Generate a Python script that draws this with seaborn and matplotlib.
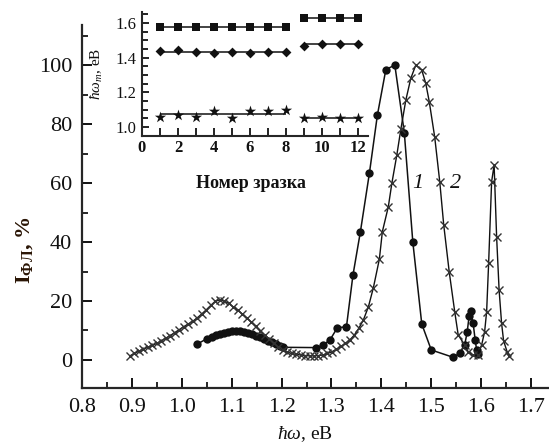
import matplotlib
matplotlib.use("Agg")
import matplotlib.pyplot as plt
import seaborn as sns
import numpy as np
import pandas as pd

# ---------------- data ----------------
s1_x = [1.030, 1.050, 1.060, 1.068, 1.076, 1.084, 1.092, 1.100, 1.108, 1.116,
        1.124, 1.132, 1.140, 1.148, 1.156, 1.164, 1.172, 1.180, 1.188, 1.196,
        1.203, 1.270, 1.283, 1.297, 1.312, 1.330, 1.343, 1.358, 1.376, 1.392,
        1.409, 1.427, 1.446, 1.463, 1.481, 1.500, 1.544, 1.557, 1.567, 1.572,
        1.576, 1.579, 1.584, 1.588, 1.591, 1.594]
s1_y = [5.3, 7.2, 7.9, 8.4, 8.8, 9.2, 9.5, 9.7, 9.8, 9.7,
        9.5, 9.2, 8.8, 8.3, 7.8, 7.2, 6.6, 6.0, 5.4, 4.8,
        4.3, 4.2, 5.0, 6.8, 11.0, 11.2, 28.7, 43.5, 63.3, 83.0,
        98.5, 100.0, 77.1, 40.1, 12.2, 3.4, 0.9, 2.3, 5.1, 9.5,
        15.0, 16.5, 12.4, 6.8, 3.4, 2.0]

s2_x = [0.896, 0.905, 0.914, 0.923, 0.932, 0.941, 0.950, 0.959, 0.968, 0.977,
        0.986, 0.995, 1.004, 1.013, 1.022, 1.031, 1.040, 1.049, 1.058, 1.067,
        1.076, 1.085, 1.094, 1.103, 1.112, 1.121, 1.130, 1.139, 1.148, 1.157,
        1.166, 1.175, 1.184, 1.193, 1.202, 1.211, 1.220, 1.229, 1.238, 1.247,
        1.256, 1.265, 1.274, 1.283, 1.292, 1.301, 1.310, 1.319, 1.328, 1.337,
        1.346, 1.355, 1.364, 1.374, 1.384, 1.396, 1.402, 1.414, 1.421, 1.431,
        1.439, 1.449, 1.459, 1.469, 1.481, 1.489, 1.496, 1.507, 1.517, 1.525,
        1.536, 1.547, 1.554, 1.567, 1.574, 1.583, 1.593, 1.601, 1.607, 1.611,
        1.615, 1.621, 1.626, 1.631, 1.636, 1.641, 1.645, 1.652, 1.655]
s2_y = [1.4, 2.2, 3.0, 3.7, 4.3, 5.0, 5.6, 6.5, 7.4, 8.3,
        9.3, 10.3, 11.3, 12.2, 13.1, 14.3, 15.6, 17.0, 18.5, 19.9,
        20.4, 20.0, 19.2, 18.0, 16.9, 15.6, 14.3, 12.9, 11.4, 9.9,
        8.4, 7.0, 5.7, 4.5, 3.4, 2.7, 2.2, 1.9, 1.7, 1.5,
        1.4, 1.4, 1.5, 1.7, 2.2, 2.8, 3.6, 4.6, 5.6, 6.8,
        8.5, 10.8, 13.6, 18.0, 24.5, 34.2, 43.5, 52.0, 59.9, 69.5,
        78.2, 88.1, 95.5, 100.0, 98.3, 93.8, 87.6, 75.5, 60.5, 45.8,
        29.9, 16.4, 8.5, 5.1, 2.8, 1.7, 1.8, 5.1, 9.6, 16.4,
        32.8, 60.5, 66.1, 41.8, 23.7, 12.4, 6.5, 2.8, 1.5]

# inset data (sample number vs energy)
samples_a = [1, 2, 3, 4, 5, 6, 7, 8]
samples_b = [9, 10, 11, 12]
sq_a = [1.58, 1.58, 1.575, 1.58, 1.575, 1.58, 1.578, 1.578]
sq_b = [1.627, 1.63, 1.63, 1.63]
di_a = [1.44, 1.445, 1.435, 1.425, 1.435, 1.425, 1.435, 1.435]
di_b = [1.47, 1.48, 1.48, 1.48]
st_a = [1.06, 1.07, 1.06, 1.09, 1.05, 1.09, 1.09, 1.10]
st_b = [1.05, 1.055, 1.05, 1.05]

main_xticks = [0.8, 0.9, 1.0, 1.1, 1.2, 1.3, 1.4, 1.5, 1.6, 1.7]
main_yticks = [0, 20, 40, 60, 80, 100]
inset_xticks = [0, 2, 4, 6, 8, 10, 12]
inset_yticks = [1.0, 1.2, 1.4, 1.6]

# ---------------- style ----------------
sns.set_style("ticks")
serif = "Liberation Serif"
plt.rcParams["font.family"] = [serif, "DejaVu Serif"]
plt.rcParams["mathtext.fontset"] = "custom"
plt.rcParams["mathtext.rm"] = serif
plt.rcParams["mathtext.it"] = serif + ":italic"
plt.rcParams["mathtext.bf"] = serif + ":bold"
plt.rcParams["axes.linewidth"] = 1.6

W, H = 549, 445
fig = plt.figure(figsize=(W / 100, H / 100), dpi=100)

def fx(px):
    return px / W

def fy(py):
    return 1 - py / H

ink = "#111111"

# ---------------- main axes ----------------
ax = fig.add_axes([fx(82), fy(388), fx(549) - fx(82), fy(25) - fy(388)])
d1 = pd.DataFrame({"x": s1_x, "y": s1_y})
d2 = pd.DataFrame({"x": s2_x, "y": s2_y})
sns.lineplot(data=d1, x="x", y="y", ax=ax, sort=False, estimator=None,
             color=ink, lw=1.1, marker="o", markersize=6, markeredgewidth=0,
             markerfacecolor=ink)
sns.lineplot(data=d2, x="x", y="y", ax=ax, sort=False, estimator=None,
             color=ink, lw=1.0, marker="x", markersize=5.5, markeredgewidth=1.0,
             markeredgecolor="#333333")

ax.set_xlim(0.8, 1.736)
ax.set_ylim(-9.5, 113.6)
ax.set_xticks(main_xticks)
ax.set_xticklabels([f"{v:.1f}" for v in main_xticks])
ax.set_yticks(main_yticks)
ax.set_xticks(np.arange(0.85, 1.74, 0.1), minor=True)
ax.set_yticks([10, 30, 50, 70, 90, 110], minor=True)
ax.tick_params(axis="both", which="major", direction="in", length=7, width=1.4,
               labelsize=16, colors=ink, pad=7)
ax.tick_params(axis="both", which="minor", direction="in", length=4, width=1.4)
ax.set_xlabel("")
ax.set_ylabel("")
for s in ["top", "right"]:
    ax.spines[s].set_visible(False)

fig.text(fx(418), fy(183), "1", ha="center", va="center", fontsize=16,
         style="italic", color=ink)
fig.text(fx(456), fy(183), "2", ha="center", va="center", fontsize=16,
         style="italic", color=ink)

fig.text(fx(305), fy(434), r"$\hbar\omega$, eB", ha="center", va="center",
         fontsize=14, color=ink)
fig.text(fx(25), fy(250), r"$\mathbf{I}_{\mathbf{ФЛ}}$, %", ha="center", va="center",
         rotation=90, fontsize=16, fontweight="bold", color="#2a1505")

# ---------------- inset ----------------
ia = fig.add_axes([fx(142), fy(136), fx(368) - fx(142), fy(12) - fy(136)])
for xs, ys, mk, ms in [(samples_a, sq_a, "s", 5.5), (samples_b, sq_b, "s", 5.5),
                       (samples_a, di_a, "D", 5.0), (samples_b, di_b, "D", 5.0),
                       (samples_a, st_a, "*", 8.5), (samples_b, st_b, "*", 8.5)]:
    sns.scatterplot(x=xs, y=ys, ax=ia, marker=mk, s=ms ** 2, color=ink,
                    edgecolor=ink, linewidth=0, zorder=3)
    ia.hlines(np.mean(ys), xs[0], xs[-1], color=ink, lw=1.1, zorder=2)

ia.set_xlim(0, 12.56)
ia.set_ylim(0.948, 1.664)
ia.set_xticks(inset_xticks)
ia.set_xticklabels([str(v) for v in inset_xticks], fontweight="bold")
ia.set_xticks(range(1, 13, 2), minor=True)
ia.set_yticks(inset_yticks)
ia.set_yticklabels([f"{v:.1f}" for v in inset_yticks])
ia.set_yticks(np.arange(0.95, 1.66, 0.05), minor=True)
ia.tick_params(axis="both", which="both", direction="in", width=1.3, colors=ink)
ia.tick_params(axis="x", which="both", length=6, labelsize=12, pad=3)
ia.tick_params(axis="y", which="major", length=5, labelsize=12, pad=4)
ia.tick_params(axis="y", which="minor", length=4)
for s in ["top", "right"]:
    ia.spines[s].set_visible(False)
for s in ["left", "bottom"]:
    ia.spines[s].set_linewidth(1.5)
ia.set_facecolor("none")

fig.text(fx(251), fy(183), "Номер зразка", ha="center", va="center",
         fontsize=13, fontweight="bold", color=ink)
fig.text(fx(97), fy(74), r"$\hbar\omega_m$, eB", ha="center", va="center",
         rotation=90, fontsize=11, color=ink)

fig.savefig("out.png", dpi=100)
